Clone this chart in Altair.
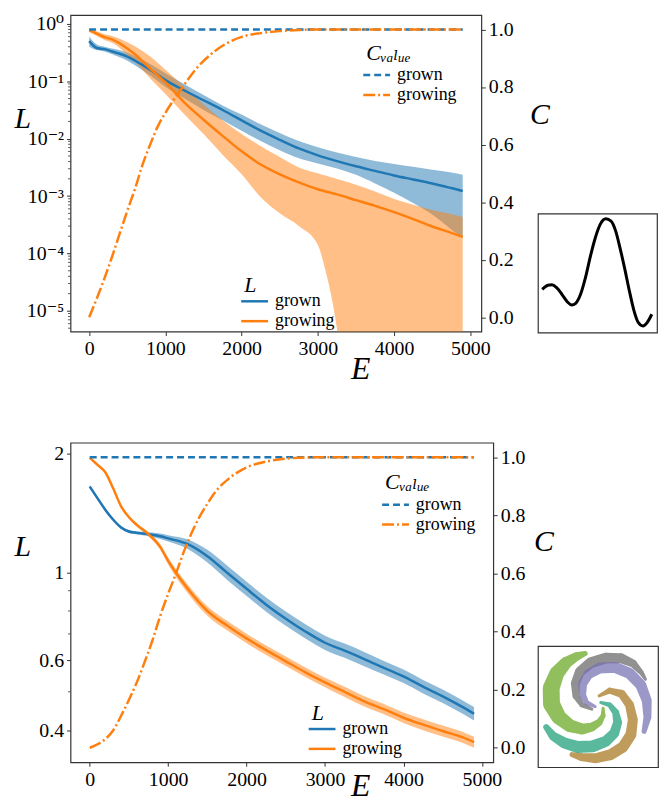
import altair as alt
import pandas as pd

FONT = "'Liberation Serif', 'DejaVu Serif', serif"
BLUE, ORANGE = "#1f77b4", "#ff7f0e"
SERIES = ["grown", "growing"]

# ================= top panel (L on a log axis, values read as log10) =================
E1 = [0, 100, 200, 300, 400, 500, 600, 800, 1000, 1250, 1500, 1750, 2000, 2250, 2500,
      2750, 3000, 3250, 3500, 3750, 4000, 4250, 4500, 4750, 4900]
L1_grown_log10 = [-0.30, -0.42, -0.44, -0.48, -0.52, -0.57, -0.64, -0.80, -0.98, -1.16, -1.33,
                  -1.50, -1.68, -1.86, -2.02, -2.17, -2.29, -2.39, -2.48, -2.56, -2.64, -2.71,
                  -2.78, -2.86, -2.91]
L1_grown_hi_log10 = [-0.22, -0.36, -0.40, -0.43, -0.46, -0.50, -0.56, -0.70, -0.86, -1.05, -1.24,
                     -1.42, -1.58, -1.75, -1.90, -2.04, -2.15, -2.24, -2.32, -2.39, -2.44, -2.49,
                     -2.54, -2.59, -2.63]
L1_grown_lo_log10 = [-0.40, -0.46, -0.48, -0.53, -0.58, -0.64, -0.72, -0.90, -1.10, -1.30, -1.50,
                     -1.68, -1.86, -2.04, -2.20, -2.34, -2.43, -2.52, -2.63, -2.78, -2.94, -3.12,
                     -3.32, -3.58, -3.74]
L1_growing_log10 = [-0.11, -0.17, -0.23, -0.27, -0.34, -0.43, -0.53, -0.78, -1.02, -1.37, -1.67,
                    -1.95, -2.22, -2.45, -2.62, -2.76, -2.88, -2.97, -3.07, -3.17, -3.28, -3.40,
                    -3.53, -3.64, -3.71]
E1_band_growing = [0, 100, 200, 300, 400, 500, 600, 800, 1000, 1250, 1500, 1750, 2000, 2250,
                   2500, 2750, 3000, 3100, 3200, 3300, 3500, 3750, 4000, 4250, 4500, 4750, 4900]
L1_growing_hi_log10 = [-0.08, -0.13, -0.18, -0.21, -0.26, -0.32, -0.39, -0.57, -0.80, -1.10, -1.40,
                       -1.68, -1.92, -2.13, -2.32, -2.50, -2.60, -2.64, -2.68, -2.72, -2.80, -2.92,
                       -3.05, -3.15, -3.24, -3.31, -3.36]
# lower edge drops below the visible axis range after E~3300 (clipped)
L1_growing_lo_log10 = [-0.14, -0.21, -0.28, -0.33, -0.42, -0.54, -0.66, -0.95, -1.22, -1.58, -1.92,
                       -2.28, -2.62, -3.02, -3.30, -3.52, -3.85, -4.30, -4.90, -5.80, -9, -9,
                       -9, -9, -9, -9, -9]
EC1 = [0, 100, 200, 300, 400, 500, 600, 700, 800, 900, 1000, 1200, 1400, 1600, 1800, 2000,
       2250, 2500, 2750, 3000, 3500, 4000, 4500, 4900]
C1_growing = [0.0, 0.065, 0.135, 0.21, 0.29, 0.37, 0.445, 0.53, 0.60, 0.663, 0.71, 0.79, 0.862,
              0.914, 0.951, 0.974, 0.987, 0.994, 0.998, 1.0, 1.0, 1.0, 1.0, 1.0]
EC_grown = [0, 4900]
C_grown = [1.0, 1.0]

# ================= bottom panel =================
E2 = [0, 100, 200, 300, 400, 500, 600, 750, 900, 1000, 1250, 1500, 1750, 2000, 2250, 2500,
      2750, 3000, 3250, 3500, 3750, 4000, 4250, 4500, 4750, 4900]
L2_grown = [1.65, 1.54, 1.44, 1.36, 1.30, 1.27, 1.26, 1.25, 1.235, 1.22, 1.18, 1.10, 1.00, 0.91,
            0.83, 0.765, 0.71, 0.665, 0.635, 0.605, 0.575, 0.547, 0.515, 0.487, 0.458, 0.44]
L2_grown_halfwidth_log10 = [0.004, 0.004, 0.004, 0.004, 0.004, 0.004, 0.004, 0.005, 0.007, 0.008,
                            0.012, 0.016, 0.018, 0.018, 0.018, 0.018, 0.018, 0.018, 0.018, 0.018,
                            0.017, 0.017, 0.017, 0.017, 0.017, 0.017]
L2_growing = [1.95, 1.87, 1.79, 1.63, 1.47, 1.38, 1.32, 1.25, 1.16, 1.07, 0.91, 0.80, 0.735, 0.682,
              0.637, 0.597, 0.56, 0.528, 0.50, 0.473, 0.452, 0.43, 0.413, 0.398, 0.384, 0.373]
L2_growing_halfwidth_log10 = [0.003, 0.003, 0.003, 0.003, 0.003, 0.003, 0.004, 0.005, 0.007, 0.009,
                              0.011, 0.012, 0.012, 0.012, 0.012, 0.012, 0.012, 0.012, 0.013, 0.013,
                              0.013, 0.013, 0.014, 0.014, 0.014, 0.014]
EC2 = [0, 100, 200, 300, 400, 500, 600, 700, 800, 900, 1000, 1100, 1200, 1300, 1400, 1500, 1600,
       1800, 2000, 2250, 2500, 2750, 3000, 4900]
C2_growing = [0.0, 0.012, 0.03, 0.06, 0.11, 0.165, 0.225, 0.295, 0.37, 0.455, 0.53, 0.60, 0.675,
              0.74, 0.795, 0.84, 0.88, 0.932, 0.965, 0.985, 0.995, 0.999, 1.0, 1.0]

# ================= inset 1: curve (normalised inset coords) =================
inset_x = [0.036, 0.083, 0.118, 0.157, 0.207, 0.248, 0.284, 0.317, 0.358, 0.399, 0.441, 0.482,
           0.523, 0.570, 0.614, 0.653, 0.689, 0.730, 0.771, 0.807, 0.840, 0.882, 0.917, 0.956]
inset_y = [0.363, 0.397, 0.402, 0.377, 0.313, 0.257, 0.232, 0.246, 0.321, 0.461, 0.642, 0.796,
           0.908, 0.955, 0.936, 0.852, 0.712, 0.531, 0.335, 0.182, 0.089, 0.056, 0.084, 0.154]

# ================= inset 2: five spiral arms (centre-lines + width in px) =================
ARMS = ["gray", "purple", "brown", "teal", "green"]
ARM_COLORS = ["#666666", "#7570b3", "#a6761d", "#1b9e77", "#66a61e"]
arm_gray_x = [178, 148, 130, 128, 142, 175, 220, 265, 302, 328, 340]
arm_gray_y = [208, 195, 168, 130, 95, 68, 54, 54, 70, 98, 118]
arm_gray_w = [3, 5, 7, 9, 10, 11, 11, 10, 8, 5, 3]
arm_purple_x = [188, 162, 150, 150, 168, 202, 248, 292, 326, 344, 346, 336]
arm_purple_y = [200, 188, 165, 132, 102, 84, 82, 100, 135, 182, 232, 275]
arm_purple_w = [3, 5, 7, 9, 10, 11, 11, 11, 11, 10, 8, 5]
arm_brown_x = [200, 232, 268, 292, 302, 296, 272, 235, 190, 145, 118]
arm_brown_y = [168, 152, 162, 195, 240, 285, 322, 345, 356, 352, 345]
arm_brown_w = [3, 6, 8, 9, 10, 11, 11, 11, 10, 8, 5]
arm_teal_x = [205, 232, 250, 256, 246, 220, 180, 135, 95, 62, 40]
arm_teal_y = [188, 195, 218, 248, 280, 305, 320, 322, 310, 290, 262]
arm_teal_w = [3, 5, 7, 9, 10, 11, 12, 12, 11, 9, 6]
arm_green_x = [212, 212, 200, 178, 148, 112, 78, 56, 55, 72, 100, 130, 158]
arm_green_y = [205, 228, 248, 262, 268, 258, 232, 192, 145, 100, 68, 50, 40]
arm_green_w = [3, 5, 7, 9, 11, 13, 15, 17, 17, 15, 12, 9, 5]

# minor tick positions of the log axes
MINOR1 = [m * 10.0 ** k for k in range(-6, 1) for m in range(2, 10)
          if 10 ** -5.36 <= m * 10.0 ** k <= 10 ** 0.155]
MINOR2 = [0.5, 0.7, 0.8, 0.9]

# ---------------- tables ----------------
def long(E, vals, series, col):
    return pd.DataFrame({"E": E, col: vals, "series": series})

line1 = pd.concat([long(E1, [10 ** v for v in L1_grown_log10], "grown", "L"),
                   long(E1, [10 ** v for v in L1_growing_log10], "growing", "L")])
band1 = pd.concat([
    pd.DataFrame({"E": E1, "lo": [10 ** v for v in L1_grown_lo_log10],
                  "hi": [10 ** v for v in L1_grown_hi_log10], "series": "grown"}),
    pd.DataFrame({"E": E1_band_growing, "lo": [10 ** v for v in L1_growing_lo_log10],
                  "hi": [10 ** v for v in L1_growing_hi_log10], "series": "growing"})])
c1 = pd.concat([long(EC_grown, C_grown, "grown", "C"), long(EC1, C1_growing, "growing", "C")])

line2 = pd.concat([long(E2, L2_grown, "grown", "L"), long(E2, L2_growing, "growing", "L")])
band2 = pd.concat([
    pd.DataFrame({"E": E2, "lo": [v / 10 ** h for v, h in zip(L2_grown, L2_grown_halfwidth_log10)],
                  "hi": [v * 10 ** h for v, h in zip(L2_grown, L2_grown_halfwidth_log10)],
                  "series": "grown"}),
    pd.DataFrame({"E": E2, "lo": [v / 10 ** h for v, h in zip(L2_growing, L2_growing_halfwidth_log10)],
                  "hi": [v * 10 ** h for v, h in zip(L2_growing, L2_growing_halfwidth_log10)],
                  "series": "growing"})])
c2 = pd.concat([long(EC_grown, C_grown, "grown", "C"), long(EC2, C2_growing, "growing", "C")])

inset1_df = pd.DataFrame({"x": inset_x, "y": inset_y})
arm_frames = []
for name, xs, ys, ws in [("gray", arm_gray_x, arm_gray_y, arm_gray_w),
                         ("purple", arm_purple_x, arm_purple_y, arm_purple_w),
                         ("brown", arm_brown_x, arm_brown_y, arm_brown_w),
                         ("teal", arm_teal_x, arm_teal_y, arm_teal_w),
                         ("green", arm_green_x, arm_green_y, arm_green_w)]:
    arm_frames.append(pd.DataFrame({"arm": name, "i": range(len(xs)), "px": xs, "py": ys, "w": ws}))
spiral_df = pd.concat(arm_frames)

# ---------------- helpers ----------------
cscale = alt.Scale(domain=SERIES, range=[BLUE, ORANGE])
dscale = alt.Scale(domain=SERIES, range=[[7, 4], [12, 3, 2, 3]])


def axis(**kw):
    base = dict(labelFont=FONT, labelFontSize=20, labelColor="black", tickColor="#333333",
                tickSize=4, tickWidth=1, domain=False, grid=False, labelPadding=3,
                titleFont=FONT, titleFontStyle="italic", titleFontWeight="normal",
                titleColor="black", titleFontSize=30)
    base.update(kw)
    return alt.Axis(**base)


def legend(title, x, y, tpad=0, rpad=-4):
    return alt.Legend(title=title, orient="none", legendX=x, legendY=y,
                      symbolType="M-1.5,0H1.5", symbolStrokeWidth=2.5, symbolSize=324,
                      symbolOpacity=1, labelFont=FONT, labelFontSize=18, labelColor="black",
                      labelOffset=10, titleFont=FONT, titleFontSize=22, titleFontStyle="italic",
                      titleFontWeight="normal", titleColor="black", titlePadding=tpad,
                      rowPadding=rpad, padding=0)


def panel(line_df, band_df, c_df, minor, w, h, ydom, yvals, ylabexpr, lt, et, legL, legC):
    X = alt.X("E:Q", scale=alt.Scale(domain=[-245, 5145], nice=False, zero=False),
              axis=axis(values=[0, 1000, 2000, 3000, 4000, 5000], format="d", title="E",
                        titleX=et[0], titleY=et[1], titleAlign="center",
                        titleBaseline="alphabetic", titleFontSize=32))
    ys = alt.Scale(type="log", domain=ydom, nice=False)
    yax = axis(values=yvals, labelExpr=ylabexpr, title="L", titleAngle=0, titleX=lt[0],
               titleY=lt[1], titleAlign="left", titleBaseline="middle")
    Y = lambda f: alt.Y(f, scale=ys, axis=yax)
    band = alt.Chart(band_df).mark_area(opacity=0.5, clip=True, interpolate="monotone").encode(
        x=X, y=Y("lo:Q"), y2="hi:Q",
        fill=alt.Fill("series:N", scale=cscale, legend=None))
    lines = alt.Chart(line_df).mark_line(strokeWidth=2.5, clip=True, interpolate="monotone").encode(
        x=X, y=Y("L:Q"),
        color=alt.Color("series:N", scale=cscale, legend=legL))
    minor_ticks = alt.Chart(pd.DataFrame({"v": minor})).mark_rule(
        color="#333333", strokeWidth=0.8).encode(
        y=Y("v:Q"), x=alt.value(-2.5), x2=alt.value(0))
    cl = alt.Chart(c_df).mark_line(strokeWidth=2.5, clip=True, interpolate="monotone").encode(
        x=X,
        y=alt.Y("C:Q", scale=alt.Scale(domain=[-0.05, 1.05], nice=False, zero=False),
                axis=axis(orient="right", values=[0, 0.2, 0.4, 0.6, 0.8, 1.0], format=".1f",
                          title=None)),
        color=alt.Color("series:N", scale=cscale, legend=legC),
        strokeDash=alt.StrokeDash("series:N", scale=dscale, legend=legC))
    return (alt.layer(alt.layer(band, lines, minor_ticks), cl)
            .resolve_scale(y="independent", color="independent", strokeDash="independent")
            .resolve_legend(color="independent", strokeDash="independent")
            .properties(width=w, height=h))


def c_title(h, x, y):
    # right-hand axis title "C" (kept in the inset column so the insets can sit under it)
    return alt.Chart(pd.DataFrame({"t": ["C"]})).mark_text(
        font=FONT, fontSize=30, fontStyle="italic", align="left", baseline="middle",
        color="black").encode(text="t:N", x=alt.value(x), y=alt.value(y)
    ).properties(width=120, height=h, view=alt.ViewBackground(stroke="transparent"))


sup = ("'10' + (round(log(datum.value)/LN10) == 0 ? '⁰' : round(log(datum.value)/LN10) == -1 ? '⁻¹' : "
       "round(log(datum.value)/LN10) == -2 ? '⁻²' : round(log(datum.value)/LN10) == -3 ? '⁻³' : "
       "round(log(datum.value)/LN10) == -4 ? '⁻⁴' : '⁻⁵')")

main1 = panel(line1, band1, c1, MINOR1, 414, 319, [10 ** -5.36, 10 ** 0.155],
              [1, 0.1, 0.01, 0.001, 0.0001, 0.00001], sup,
              (-57, 104), (292, 47),
              legend("L", 175, 262, -6, -7), legend("Cᵥₐₗᵤₑ", 298, 28, 0, -5))
main2 = panel(line2, band2, c2, MINOR2, 426, 322, [10 ** -0.479, 10 ** 0.328],
              [0.4, 0.6, 1, 2], "format(datum.value, '~g')",
              (-57, 105), (292, 33),
              legend("L", 243, 262, -6, -3), legend("Cᵥₐₗᵤₑ", 317, 30, 0, -5))

inset1 = alt.Chart(inset1_df).mark_line(color="black", strokeWidth=3, interpolate="monotone").encode(
    x=alt.X("x:Q", scale=alt.Scale(domain=[0, 1]), axis=None),
    y=alt.Y("y:Q", scale=alt.Scale(domain=[0, 1]), axis=None)
).properties(width=120, height=120)

inset2 = alt.Chart(spiral_df).mark_trail(opacity=0.72).encode(
    x=alt.X("px:Q", scale=alt.Scale(domain=[15, 378]), axis=None),
    y=alt.Y("py:Q", scale=alt.Scale(domain=[383, 18]), axis=None),
    size=alt.Size("w:Q", scale=None, legend=None),
    color=alt.Color("arm:N", scale=alt.Scale(domain=ARMS, range=ARM_COLORS), legend=None),
    order="i:Q",
).properties(width=121, height=122)

left = alt.vconcat(main1, main2, spacing=57)
right = alt.vconcat(c_title(197, -8, 101), inset1, c_title(312, -4, 209), inset2, spacing=0)

chart = alt.hconcat(left, right, spacing=3).properties(
    padding={"left": 5, "top": 2, "right": 0, "bottom": 0}
).configure_view(stroke="#333333", strokeWidth=1.2)

chart.save("out.html", embed_options={"renderer": "svg", "actions": False})
